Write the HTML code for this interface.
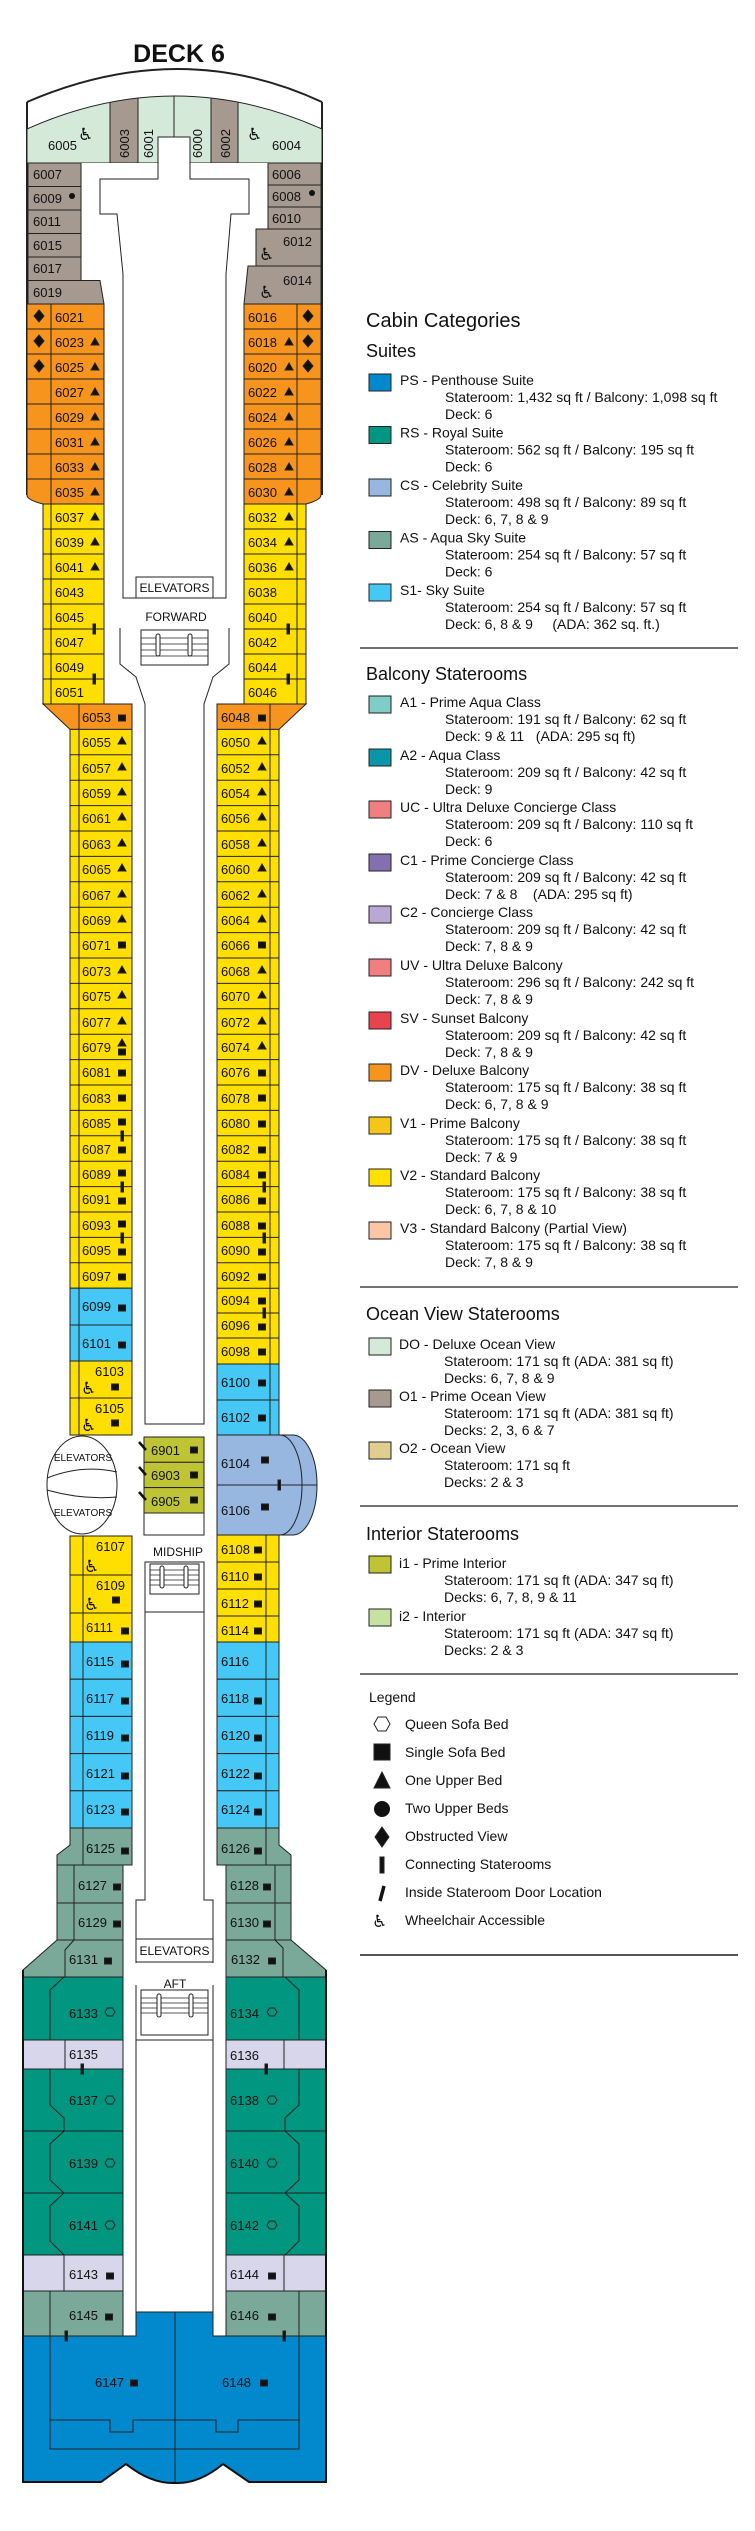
<!DOCTYPE html>
<html><head><meta charset="utf-8"><style>
html,body{margin:0;padding:0;background:#fff}
svg{display:block}
.n{font-family:"Liberation Sans",sans-serif;font-size:13px;fill:#111}
.s{font-family:"Liberation Sans",sans-serif;font-size:10px;fill:#111}
.lg{font-family:"Liberation Sans",sans-serif;font-size:14px;fill:#111}
.h{font-family:"Liberation Sans",sans-serif;font-size:18px;fill:#111}
.wc{font-family:"DejaVu Sans",sans-serif;font-size:17px;fill:#111}
rect,polygon,path.c{stroke:#222;stroke-width:1}
</style></head><body>
<svg width="755" height="2531" viewBox="0 0 755 2531" xmlns="http://www.w3.org/2000/svg">
<defs>
<clipPath id="bow"><path d="M27,129 Q174.5,63 322,129 V163 H27 Z"/></clipPath>
<g id="sq"><rect x="-3.5" y="-3" width="7" height="6" fill="#111" stroke="none"/></g>
<g id="tr"><polygon points="-4,3 4,3 0,-4" fill="#111" stroke="none"/></g>
<g id="dm"><polygon points="0,-6 5,0 0,6 -5,0" fill="#111" stroke="none"/></g>
<g id="cb"><rect x="-1" y="-5" width="2.5" height="10" fill="#111" stroke="none"/></g>
<g id="hx"><polygon points="-5,0 -2.5,-4 2.5,-4 5,0 2.5,4 -2.5,4" fill="none" stroke="#111" stroke-width="2"/></g>
</defs>

<text x="179" y="62" text-anchor="middle" style="font-family:'Liberation Sans',sans-serif;font-weight:bold;font-size:25px;fill:#111">DECK 6</text>

<!-- bow -->
<path d="M27,102 Q180,36 322,102" fill="none" stroke="#222" stroke-width="2"/>
<line x1="27" y1="102" x2="27" y2="495" stroke="#222" stroke-width="2"/>
<line x1="322" y1="102" x2="322" y2="495" stroke="#222" stroke-width="2"/>
<g clip-path="url(#bow)">
<rect x="27" y="60" width="295" height="103" fill="#d4e9d8"/>
<rect x="110" y="60" width="28" height="103" fill="#a59990"/>
<rect x="211" y="60" width="27" height="103" fill="#a59990"/>
<line x1="174" y1="60" x2="174" y2="163" stroke="#222"/>
</g>
<path d="M27,129 Q174.5,63 322,129" fill="none" stroke="#222"/>
<text class="n" x="48" y="150">6005</text><text class="wc" x="78" y="140">♿</text>
<text class="n" x="272" y="150">6004</text><text class="wc" x="247" y="140">♿</text>
<text class="n" transform="translate(129,158) rotate(-90)">6003</text>
<text class="n" transform="translate(153,158) rotate(-90)">6001</text>
<text class="n" transform="translate(202,158) rotate(-90)">6000</text>
<text class="n" transform="translate(230,158) rotate(-90)">6002</text>

<!-- central forward outline -->
<polygon points="158,137 190,137 190,179 249,179 249,214 231,214 226,274 226,598 123,598 123,274 117,214 100,214 100,179 158,179" fill="#fff" stroke="#222"/>
<rect x="136" y="577" width="77" height="21" fill="#fff"/>
<text class="n" x="174.5" y="592" text-anchor="middle" style="font-size:12px">ELEVATORS</text>
<text class="n" x="176" y="621" text-anchor="middle" style="font-size:12px">FORWARD</text>
<path d="M120,628 V664 L136,677 L145,704 V1424 H204 V704 L213,677 L229,664 V628" fill="none" stroke="#222"/>
<rect x="141" y="630" width="67" height="35" fill="#fff"/>
<g stroke="#222" stroke-width="0.8"><line x1="141" y1="638" x2="208" y2="638"/><line x1="141" y1="644" x2="208" y2="644"/><line x1="141" y1="650" x2="208" y2="650"/><line x1="141" y1="656" x2="208" y2="656"/></g>
<rect x="156" y="634" width="4" height="22" rx="2" fill="#fff"/><rect x="188" y="634" width="4" height="22" rx="2" fill="#fff"/>

<!-- left grey -->
<g fill="#a59990">
<rect x="28" y="163" width="53" height="23.5"/><rect x="28" y="186.5" width="53" height="23.5"/><rect x="28" y="210" width="53" height="23.5"/>
<rect x="28" y="233.5" width="53" height="23.5"/><rect x="28" y="257" width="53" height="23.5"/>
<polygon points="28,280.5 100,280.5 104,304 28,304"/>
</g>
<text class="n" x="33" y="179">6007</text><text class="n" x="33" y="203">6009</text><text class="n" x="33" y="226">6011</text>
<text class="n" x="33" y="250">6015</text><text class="n" x="33" y="273">6017</text><text class="n" x="33" y="297">6019</text>
<circle cx="72" cy="196" r="3" fill="#111"/>
<!-- right grey -->
<g fill="#a59990">
<rect x="268" y="163" width="53" height="22"/><rect x="268" y="185" width="53" height="22"/><rect x="268" y="207" width="53" height="22"/>
<rect x="256" y="229" width="65" height="37"/>
<polygon points="248,266 321,266 321,304 244,304"/>
</g>
<text class="n" x="272" y="179">6006</text><text class="n" x="272" y="201">6008</text><text class="n" x="272" y="223">6010</text>
<circle cx="312" cy="193" r="3" fill="#111"/>
<text class="wc" x="259" y="260">♿</text><text class="n" x="283" y="246">6012</text>
<text class="wc" x="259" y="298">♿</text><text class="n" x="283" y="285">6014</text>

<!-- orange upper -->
<g fill="#f7941e">
<rect x="27" y="304" width="77" height="25"/><rect x="27" y="329" width="77" height="25"/><rect x="27" y="354" width="77" height="25"/><rect x="27" y="379" width="77" height="25"/>
<rect x="27" y="404" width="77" height="25"/><rect x="27" y="429" width="77" height="25"/><rect x="27" y="454" width="77" height="25"/><path class="c" d="M27,479 H104 V504 H43 Q27,500 27,495 Z"/>
<rect x="244" y="304" width="77" height="25"/><rect x="244" y="329" width="77" height="25"/><rect x="244" y="354" width="77" height="25"/><rect x="244" y="379" width="77" height="25"/>
<rect x="244" y="404" width="77" height="25"/><rect x="244" y="429" width="77" height="25"/><rect x="244" y="454" width="77" height="25"/><path class="c" d="M244,479 H321 V495 Q321,500 306,504 H244 Z"/>
</g>
<line x1="51" y1="304" x2="51" y2="704" stroke="#222"/><line x1="297" y1="304" x2="297" y2="704" stroke="#222"/>
<!-- yellow upper -->
<g fill="#ffdf00">
<rect x="43" y="504" width="61" height="25"/><rect x="43" y="529" width="61" height="25"/><rect x="43" y="554" width="61" height="25"/><rect x="43" y="579" width="61" height="25"/>
<rect x="43" y="604" width="61" height="25"/><rect x="43" y="629" width="61" height="25"/><rect x="43" y="654" width="61" height="25"/><rect x="43" y="679" width="61" height="25"/>
<rect x="244" y="504" width="62" height="25"/><rect x="244" y="529" width="62" height="25"/><rect x="244" y="554" width="62" height="25"/><rect x="244" y="579" width="62" height="25"/>
<rect x="244" y="604" width="62" height="25"/><rect x="244" y="629" width="62" height="25"/><rect x="244" y="654" width="62" height="25"/><rect x="244" y="679" width="62" height="25"/>
</g>
<line x1="51" y1="504" x2="51" y2="704" stroke="#222"/><line x1="297" y1="504" x2="297" y2="704" stroke="#222"/>
<g class="n">
<text class="n" x="55" y="322">6021</text><text class="n" x="55" y="347">6023</text><text class="n" x="55" y="372">6025</text><text class="n" x="55" y="397">6027</text>
<text class="n" x="55" y="422">6029</text><text class="n" x="55" y="447">6031</text><text class="n" x="55" y="472">6033</text><text class="n" x="55" y="497">6035</text>
<text class="n" x="55" y="522">6037</text><text class="n" x="55" y="547">6039</text><text class="n" x="55" y="572">6041</text><text class="n" x="55" y="597">6043</text>
<text class="n" x="55" y="622">6045</text><text class="n" x="55" y="647">6047</text><text class="n" x="55" y="672">6049</text><text class="n" x="55" y="697">6051</text>
<text class="n" x="248" y="322">6016</text><text class="n" x="248" y="347">6018</text><text class="n" x="248" y="372">6020</text><text class="n" x="248" y="397">6022</text>
<text class="n" x="248" y="422">6024</text><text class="n" x="248" y="447">6026</text><text class="n" x="248" y="472">6028</text><text class="n" x="248" y="497">6030</text>
<text class="n" x="248" y="522">6032</text><text class="n" x="248" y="547">6034</text><text class="n" x="248" y="572">6036</text><text class="n" x="248" y="597">6038</text>
<text class="n" x="248" y="622">6040</text><text class="n" x="248" y="647">6042</text><text class="n" x="248" y="672">6044</text><text class="n" x="248" y="697">6046</text>
</g>
<use href="#dm" x="39" y="316"/><use href="#dm" x="39" y="341"/><use href="#dm" x="39" y="366"/>
<use href="#dm" x="308" y="316"/><use href="#dm" x="308" y="341"/><use href="#dm" x="308" y="366"/>
<use href="#tr" x="95" y="342"/><use href="#tr" x="95" y="367"/><use href="#tr" x="95" y="392"/><use href="#tr" x="95" y="417"/><use href="#tr" x="95" y="442"/><use href="#tr" x="95" y="467"/><use href="#tr" x="95" y="492"/>
<use href="#tr" x="95" y="517"/><use href="#tr" x="95" y="542"/><use href="#tr" x="95" y="567"/>
<use href="#tr" x="289" y="342"/><use href="#tr" x="289" y="367"/><use href="#tr" x="289" y="392"/><use href="#tr" x="289" y="417"/><use href="#tr" x="289" y="442"/><use href="#tr" x="289" y="467"/><use href="#tr" x="289" y="492"/>
<use href="#tr" x="289" y="517"/><use href="#tr" x="289" y="542"/><use href="#tr" x="289" y="567"/>
<use href="#cb" x="94" y="629"/><use href="#cb" x="94" y="679"/><use href="#cb" x="288" y="629"/><use href="#cb" x="288" y="679"/>

<!-- mid section rows -->
<polygon points="43,704 79,704 79,729.4 70,729.4" fill="#f7941e"/>
<polygon points="270,704 306,704 279,729.4 270,729.4" fill="#f7941e"/>
<rect x="79" y="704" width="53" height="25.4" fill="#f7941e"/>
<rect x="217" y="704" width="53" height="25.4" fill="#f7941e"/>
<rect x="70" y="729.4" width="62" height="558.8" fill="#ffdf00"/>
<rect x="217" y="729.4" width="62" height="634.6" fill="#ffdf00"/>
<g stroke="#222">
<line x1="79" y1="704" x2="79" y2="1435"/><line x1="270" y1="704" x2="270" y2="1435"/>
<line x1="70" y1="754.8" x2="132" y2="754.8"/><line x1="70" y1="780.2" x2="132" y2="780.2"/><line x1="70" y1="805.6" x2="132" y2="805.6"/><line x1="70" y1="831" x2="132" y2="831"/>
<line x1="70" y1="856.4" x2="132" y2="856.4"/><line x1="70" y1="881.8" x2="132" y2="881.8"/><line x1="70" y1="907.2" x2="132" y2="907.2"/><line x1="70" y1="932.6" x2="132" y2="932.6"/>
<line x1="70" y1="958" x2="132" y2="958"/><line x1="70" y1="983.4" x2="132" y2="983.4"/><line x1="70" y1="1008.8" x2="132" y2="1008.8"/><line x1="70" y1="1034.2" x2="132" y2="1034.2"/>
<line x1="70" y1="1059.6" x2="132" y2="1059.6"/><line x1="70" y1="1085" x2="132" y2="1085"/><line x1="70" y1="1110.4" x2="132" y2="1110.4"/><line x1="70" y1="1135.8" x2="132" y2="1135.8"/>
<line x1="70" y1="1161.2" x2="132" y2="1161.2"/><line x1="70" y1="1186.6" x2="132" y2="1186.6"/><line x1="70" y1="1212" x2="132" y2="1212"/><line x1="70" y1="1237.4" x2="132" y2="1237.4"/><line x1="70" y1="1262.8" x2="132" y2="1262.8"/>
<line x1="217" y1="754.8" x2="279" y2="754.8"/><line x1="217" y1="780.2" x2="279" y2="780.2"/><line x1="217" y1="805.6" x2="279" y2="805.6"/><line x1="217" y1="831" x2="279" y2="831"/>
<line x1="217" y1="856.4" x2="279" y2="856.4"/><line x1="217" y1="881.8" x2="279" y2="881.8"/><line x1="217" y1="907.2" x2="279" y2="907.2"/><line x1="217" y1="932.6" x2="279" y2="932.6"/>
<line x1="217" y1="958" x2="279" y2="958"/><line x1="217" y1="983.4" x2="279" y2="983.4"/><line x1="217" y1="1008.8" x2="279" y2="1008.8"/><line x1="217" y1="1034.2" x2="279" y2="1034.2"/>
<line x1="217" y1="1059.6" x2="279" y2="1059.6"/><line x1="217" y1="1085" x2="279" y2="1085"/><line x1="217" y1="1110.4" x2="279" y2="1110.4"/><line x1="217" y1="1135.8" x2="279" y2="1135.8"/>
<line x1="217" y1="1161.2" x2="279" y2="1161.2"/><line x1="217" y1="1186.6" x2="279" y2="1186.6"/><line x1="217" y1="1212" x2="279" y2="1212"/><line x1="217" y1="1237.4" x2="279" y2="1237.4"/><line x1="217" y1="1262.8" x2="279" y2="1262.8"/>
<line x1="217" y1="1288.2" x2="279" y2="1288.2"/><line x1="217" y1="1313" x2="279" y2="1313"/><line x1="217" y1="1338" x2="279" y2="1338"/>
</g>
<!-- blue/yellow near midship -->
<rect x="70" y="1288.2" width="62" height="36.8" fill="#45c8f5"/><rect x="70" y="1325" width="62" height="36" fill="#45c8f5"/>
<rect x="70" y="1361" width="62" height="37" fill="#ffdf00"/><rect x="70" y="1398" width="62" height="37" fill="#ffdf00"/>
<rect x="217" y="1364" width="62" height="36" fill="#45c8f5"/><rect x="217" y="1400" width="62" height="35" fill="#45c8f5"/>
<g stroke="#222"><line x1="79" y1="1288" x2="79" y2="1435"/><line x1="270" y1="1364" x2="270" y2="1435"/></g>

<g>
<text class="n" x="82" y="722">6053</text><text class="n" x="82" y="747">6055</text><text class="n" x="82" y="773">6057</text><text class="n" x="82" y="798">6059</text>
<text class="n" x="82" y="823">6061</text><text class="n" x="82" y="849">6063</text><text class="n" x="82" y="874">6065</text><text class="n" x="82" y="900">6067</text>
<text class="n" x="82" y="925">6069</text><text class="n" x="82" y="950">6071</text><text class="n" x="82" y="976">6073</text><text class="n" x="82" y="1001">6075</text>
<text class="n" x="82" y="1027">6077</text><text class="n" x="82" y="1052">6079</text><text class="n" x="82" y="1077">6081</text><text class="n" x="82" y="1103">6083</text>
<text class="n" x="82" y="1128">6085</text><text class="n" x="82" y="1154">6087</text><text class="n" x="82" y="1179">6089</text><text class="n" x="82" y="1204">6091</text>
<text class="n" x="82" y="1230">6093</text><text class="n" x="82" y="1255">6095</text><text class="n" x="82" y="1281">6097</text>
<text class="n" x="82" y="1311">6099</text><text class="n" x="82" y="1348">6101</text>
<text class="n" x="95" y="1376">6103</text><text class="wc" x="81" y="1394">♿</text>
<text class="n" x="95" y="1413">6105</text><text class="wc" x="81" y="1431">♿</text>
<text class="n" x="221" y="722">6048</text><text class="n" x="221" y="747">6050</text><text class="n" x="221" y="773">6052</text><text class="n" x="221" y="798">6054</text>
<text class="n" x="221" y="823">6056</text><text class="n" x="221" y="849">6058</text><text class="n" x="221" y="874">6060</text><text class="n" x="221" y="900">6062</text>
<text class="n" x="221" y="925">6064</text><text class="n" x="221" y="950">6066</text><text class="n" x="221" y="976">6068</text><text class="n" x="221" y="1001">6070</text>
<text class="n" x="221" y="1027">6072</text><text class="n" x="221" y="1052">6074</text><text class="n" x="221" y="1077">6076</text><text class="n" x="221" y="1103">6078</text>
<text class="n" x="221" y="1128">6080</text><text class="n" x="221" y="1154">6082</text><text class="n" x="221" y="1179">6084</text><text class="n" x="221" y="1204">6086</text>
<text class="n" x="221" y="1230">6088</text><text class="n" x="221" y="1255">6090</text><text class="n" x="221" y="1281">6092</text>
<text class="n" x="221" y="1305">6094</text><text class="n" x="221" y="1330">6096</text><text class="n" x="221" y="1356">6098</text>
<text class="n" x="221" y="1387">6100</text><text class="n" x="221" y="1422">6102</text>
</g>
<use href="#sq" x="122" y="718"/>
<use href="#tr" x="122" y="741"/><use href="#tr" x="122" y="767"/><use href="#tr" x="122" y="792"/><use href="#tr" x="122" y="817"/><use href="#tr" x="122" y="843"/><use href="#tr" x="122" y="868"/><use href="#tr" x="122" y="894"/><use href="#tr" x="122" y="919"/>
<use href="#sq" x="122" y="945"/><use href="#tr" x="122" y="970"/><use href="#tr" x="122" y="995"/><use href="#tr" x="122" y="1021"/>
<use href="#tr" x="122" y="1043"/><use href="#sq" x="122" y="1052"/>
<use href="#sq" x="122" y="1073"/><use href="#sq" x="122" y="1098"/><use href="#sq" x="122" y="1122"/><use href="#sq" x="122" y="1150"/><use href="#sq" x="122" y="1173"/><use href="#sq" x="122" y="1201"/>
<use href="#sq" x="122" y="1224"/><use href="#sq" x="122" y="1252"/><use href="#sq" x="122" y="1277"/><use href="#sq" x="122" y="1308"/><use href="#sq" x="122" y="1345"/>
<use href="#sq" x="115" y="1387"/><use href="#sq" x="115" y="1423"/>
<use href="#cb" x="122" y="1136"/><use href="#cb" x="122" y="1187"/><use href="#cb" x="122" y="1238"/>
<use href="#sq" x="262" y="718"/>
<use href="#tr" x="262" y="741"/><use href="#tr" x="262" y="767"/><use href="#tr" x="262" y="792"/><use href="#tr" x="262" y="817"/><use href="#tr" x="262" y="843"/><use href="#tr" x="262" y="868"/><use href="#tr" x="262" y="894"/><use href="#tr" x="262" y="919"/>
<use href="#sq" x="262" y="945"/><use href="#tr" x="262" y="970"/><use href="#tr" x="262" y="995"/><use href="#tr" x="262" y="1021"/><use href="#tr" x="262" y="1046"/>
<use href="#sq" x="262" y="1073"/><use href="#sq" x="262" y="1098"/><use href="#sq" x="262" y="1124"/><use href="#sq" x="262" y="1150"/><use href="#sq" x="262" y="1175"/><use href="#sq" x="262" y="1201"/>
<use href="#sq" x="262" y="1226"/><use href="#sq" x="262" y="1252"/><use href="#sq" x="262" y="1277"/><use href="#sq" x="262" y="1301"/><use href="#sq" x="262" y="1327"/><use href="#sq" x="262" y="1352"/>
<use href="#sq" x="262" y="1383"/><use href="#sq" x="262" y="1418"/>
<use href="#cb" x="264" y="1187"/><use href="#cb" x="264" y="1238"/><use href="#cb" x="264" y="1313"/>

<!-- midship -->
<ellipse cx="82" cy="1485" rx="35" ry="49" fill="#fff" stroke="#222"/>
<path d="M47,1478 Q82,1464 117,1472" fill="none" stroke="#222"/>
<path d="M47,1490 Q82,1500 117,1497" fill="none" stroke="#222"/>
<text class="s" x="83" y="1461" text-anchor="middle">ELEVATORS</text>
<text class="s" x="83" y="1516" text-anchor="middle">ELEVATORS</text>
<g fill="#bfc435"><rect x="144" y="1437" width="60" height="25.3"/><rect x="144" y="1462.3" width="60" height="25.3"/><rect x="144" y="1487.6" width="60" height="25.4"/></g>
<rect x="144" y="1513" width="60" height="22" fill="#fff"/>
<g stroke="#111" stroke-width="2.5"><line x1="139" y1="1442" x2="146" y2="1450"/><line x1="139" y1="1467" x2="146" y2="1475"/><line x1="139" y1="1492" x2="146" y2="1500"/></g>
<text class="n" x="151" y="1455">6901</text><text class="n" x="151" y="1480">6903</text><text class="n" x="151" y="1506">6905</text>
<use href="#sq" x="194" y="1450"/><use href="#sq" x="194" y="1475"/><use href="#sq" x="194" y="1500"/>
<path class="c" d="M217,1435 H293 A24,50 0 0 1 293,1535 H217 Z" fill="#97b6e0"/>
<path d="M280,1435 A22,50 0 0 1 280,1535" fill="none" stroke="#222"/>
<line x1="217" y1="1485" x2="317" y2="1485" stroke="#222"/>
<use href="#cb" x="279" y="1485"/>
<text class="n" x="221" y="1468">6104</text><text class="n" x="221" y="1515">6106</text>
<use href="#sq" x="265" y="1460"/><use href="#sq" x="265" y="1507"/>
<text class="n" x="178" y="1556" text-anchor="middle" style="font-size:12px">MIDSHIP</text>
<rect x="145" y="1562" width="59" height="50" fill="#fff"/>
<rect x="150" y="1564" width="49" height="30" fill="#fff"/>
<g stroke="#222" stroke-width="0.8"><line x1="150" y1="1570" x2="199" y2="1570"/><line x1="150" y1="1575" x2="199" y2="1575"/><line x1="150" y1="1580" x2="199" y2="1580"/><line x1="150" y1="1585" x2="199" y2="1585"/></g>
<rect x="160" y="1566" width="4" height="22" rx="2" fill="#fff"/><rect x="184" y="1566" width="4" height="22" rx="2" fill="#fff"/>
<path d="M145,1612 V1900 H136 V1963 M204,1612 V1900 H213 V1963" fill="none" stroke="#222"/>
<rect x="136" y="1939" width="77" height="23" fill="#fff"/>
<text class="n" x="174.5" y="1955" text-anchor="middle" style="font-size:12px">ELEVATORS</text>
<text class="n" x="175" y="1988" text-anchor="middle" style="font-size:12px">AFT</text>
<path d="M136,1985 V2312 M213,1985 V2312 M136,2040 H213" fill="none" stroke="#222"/>
<rect x="141" y="1990" width="67" height="45" fill="#fff"/>
<g stroke="#222" stroke-width="0.8"><line x1="141" y1="1998" x2="208" y2="1998"/><line x1="141" y1="2003" x2="208" y2="2003"/><line x1="141" y1="2008" x2="208" y2="2008"/><line x1="141" y1="2013" x2="208" y2="2013"/></g>
<rect x="157" y="1994" width="4" height="23" rx="2" fill="#fff"/><rect x="189" y="1994" width="4" height="23" rx="2" fill="#fff"/>

<!-- lower left -->
<g fill="#ffdf00"><rect x="70" y="1536" width="62" height="39"/><rect x="70" y="1575" width="62" height="38"/><rect x="70" y="1613" width="62" height="29"/></g>
<g fill="#ffdf00"><rect x="217" y="1535" width="62" height="27"/><rect x="217" y="1562" width="62" height="27"/><rect x="217" y="1589" width="62" height="27"/><rect x="217" y="1616" width="62" height="26"/></g>
<g fill="#45c8f5">
<rect x="70" y="1642" width="62" height="37.2"/><rect x="70" y="1679.2" width="62" height="37.2"/><rect x="70" y="1716.4" width="62" height="37.2"/><rect x="70" y="1753.6" width="62" height="37.2"/><rect x="70" y="1790.8" width="62" height="37.2"/>
<rect x="217" y="1642" width="62" height="37.2"/><rect x="217" y="1679.2" width="62" height="37.2"/><rect x="217" y="1716.4" width="62" height="37.2"/><rect x="217" y="1753.6" width="62" height="37.2"/><rect x="217" y="1790.8" width="62" height="37.2"/>
</g>
<polygon points="70,1828 132,1828 132,1865 57,1865 57,1855 70,1845" fill="#7aa899"/>
<polygon points="217,1828 279,1828 279,1845 291,1855 291,1865 217,1865" fill="#7aa899"/>
<g stroke="#222"><line x1="83" y1="1536" x2="83" y2="1865"/><line x1="266" y1="1535" x2="266" y2="1865"/></g>
<g fill="#7aa899">
<rect x="57" y="1865" width="66" height="38"/><rect x="57" y="1903" width="66" height="37"/>
<rect x="226" y="1865" width="65" height="38"/><rect x="226" y="1903" width="65" height="37"/>
<polygon points="57,1940 123,1940 123,1977 23,1977 23,1970"/>
<polygon points="226,1940 291,1940 326,1970 326,1977 226,1977"/>
</g>
<g stroke="#222" fill="none"><path d="M74,1865 V1940 L65,1950 V1977"/><path d="M275,1865 V1940 L283,1948 V1977"/></g>
<text class="n" x="96" y="1551">6107</text><text class="wc" x="84" y="1572">♿</text>
<text class="n" x="96" y="1590">6109</text><text class="wc" x="84" y="1610">♿</text>
<text class="n" x="86" y="1632">6111</text>
<use href="#sq" x="116" y="1600"/><use href="#sq" x="125" y="1631"/>
<text class="n" x="86" y="1666">6115</text><text class="n" x="86" y="1703">6117</text><text class="n" x="86" y="1740">6119</text><text class="n" x="86" y="1778">6121</text><text class="n" x="86" y="1814">6123</text><text class="n" x="86" y="1853">6125</text>
<use href="#sq" x="125" y="1664"/><use href="#sq" x="125" y="1701"/><use href="#sq" x="125" y="1738"/><use href="#sq" x="125" y="1776"/><use href="#sq" x="125" y="1812"/><use href="#sq" x="125" y="1851"/>
<text class="n" x="221" y="1554">6108</text><text class="n" x="221" y="1581">6110</text><text class="n" x="221" y="1608">6112</text><text class="n" x="221" y="1635">6114</text>
<use href="#sq" x="258" y="1550"/><use href="#sq" x="258" y="1577"/><use href="#sq" x="258" y="1604"/><use href="#sq" x="258" y="1631"/>
<text class="n" x="221" y="1666">6116</text><text class="n" x="221" y="1703">6118</text><text class="n" x="221" y="1740">6120</text><text class="n" x="221" y="1778">6122</text><text class="n" x="221" y="1814">6124</text><text class="n" x="221" y="1853">6126</text>
<use href="#sq" x="258" y="1701"/><use href="#sq" x="258" y="1738"/><use href="#sq" x="258" y="1776"/><use href="#sq" x="258" y="1812"/><use href="#sq" x="258" y="1851"/>
<text class="n" x="78" y="1890">6127</text><text class="n" x="78" y="1927">6129</text><text class="n" x="69" y="1964">6131</text>
<use href="#sq" x="117" y="1887"/><use href="#sq" x="117" y="1924"/><use href="#sq" x="108" y="1961"/>
<text class="n" x="230" y="1890">6128</text><text class="n" x="230" y="1927">6130</text><text class="n" x="231" y="1964">6132</text>
<use href="#sq" x="267" y="1887"/><use href="#sq" x="267" y="1924"/><use href="#sq" x="272" y="1961"/>

<!-- aft suites -->
<g fill="#009680">
<rect x="23" y="1977" width="100" height="63"/><rect x="23" y="2069" width="100" height="62"/><rect x="23" y="2131" width="100" height="62"/><rect x="23" y="2193" width="100" height="62"/>
<rect x="226" y="1977" width="100" height="63"/><rect x="226" y="2069" width="100" height="62"/><rect x="226" y="2131" width="100" height="62"/><rect x="226" y="2193" width="100" height="62"/>
</g>
<g fill="#d8d6ea"><rect x="23" y="2040" width="100" height="29"/><rect x="23" y="2255" width="100" height="36"/><rect x="226" y="2040" width="100" height="29"/><rect x="226" y="2255" width="100" height="36"/></g>
<g fill="#7aa899"><rect x="23" y="2291" width="100" height="45"/><rect x="226" y="2291" width="100" height="45"/></g>
<g stroke="#222" fill="none">
<path d="M64,1977 L50,1990 V2040 M65,2040 V2069 M50,2069 V2105 L64,2118 V2131 M64,2131 L50,2144 V2180 L64,2193 M64,2193 L50,2206 V2241 L64,2255 M64,2255 V2291 M50,2291 V2336"/>
<path d="M285,1977 L299,1990 V2040 M284,2040 V2069 M299,2069 V2105 L285,2118 V2131 M285,2131 L299,2144 V2180 L285,2193 M285,2193 L299,2206 V2241 L285,2255 M284,2255 V2291 M299,2291 V2336"/>
</g>
<path class="c" d="M136,2312 H213 V2336 H326 V2482 H249 L223,2464 Q199,2484 175,2483 Q151,2484 126,2464 L101,2482 H23 V2336 H136 Z" fill="#0288cc"/>
<g stroke="#222" fill="none">
<line x1="175" y1="2312" x2="175" y2="2483"/>
<path d="M50,2336 V2449 H299 V2336"/>
<path d="M50,2420 H110 V2432 H133 V2420 H216 V2432 H238 V2420 H299"/>
</g>
<path d="M23,1970 V2482 H101 L126,2464 Q151,2484 175,2483 Q199,2484 223,2464 L249,2482 H326 V1970" fill="none" stroke="#111" stroke-width="2"/>
<text class="n" x="69" y="2018">6133</text><text class="n" x="69" y="2059">6135</text><text class="n" x="69" y="2105">6137</text><text class="n" x="69" y="2168">6139</text><text class="n" x="69" y="2230">6141</text><text class="n" x="69" y="2279">6143</text><text class="n" x="69" y="2320">6145</text>
<use href="#hx" x="110" y="2012"/><use href="#hx" x="110" y="2100"/><use href="#hx" x="110" y="2163"/><use href="#hx" x="110" y="2225"/>
<use href="#sq" x="110" y="2276"/><use href="#sq" x="109" y="2317"/>
<use href="#cb" x="82" y="2069"/><use href="#cb" x="66" y="2336"/>
<text class="n" x="230" y="2060">6136</text><text class="n" x="230" y="2018">6134</text><text class="n" x="230" y="2105">6138</text><text class="n" x="230" y="2168">6140</text><text class="n" x="230" y="2230">6142</text><text class="n" x="230" y="2279">6144</text><text class="n" x="230" y="2320">6146</text>
<use href="#hx" x="272" y="2012"/><use href="#hx" x="272" y="2100"/><use href="#hx" x="272" y="2163"/><use href="#hx" x="272" y="2225"/>
<use href="#sq" x="272" y="2276"/><use href="#sq" x="272" y="2317"/>
<use href="#cb" x="266" y="2069"/><use href="#cb" x="284" y="2336"/>
<text class="n" x="95" y="2387">6147</text><use href="#sq" x="134" y="2383"/>
<text class="n" x="222" y="2387">6148</text><use href="#sq" x="264" y="2383"/>

<!-- LEGEND -->
<g style="font-family:'Liberation Sans',sans-serif;fill:#111">
<text x="366" y="327" style="font-size:20px">Cabin Categories</text>
<text x="366" y="357" class="h">Suites</text>
</g>
<g class="lg">
<rect x="369" y="374" width="22" height="17" fill="#0288cc" stroke="#888"/><text class="lg" x="400" y="385">PS - Penthouse Suite</text><text class="lg" x="445" y="402">Stateroom: 1,432 sq ft / Balcony: 1,098 sq ft</text><text class="lg" x="445" y="419">Deck: 6</text>
<rect x="369" y="426.5" width="22" height="17" fill="#009680" stroke="#888"/><text class="lg" x="400" y="437.5">RS - Royal Suite</text><text class="lg" x="445" y="454.5">Stateroom: 562 sq ft / Balcony: 195 sq ft</text><text class="lg" x="445" y="471.5">Deck: 6</text>
<rect x="369" y="479" width="22" height="17" fill="#97b6e0" stroke="#888"/><text class="lg" x="400" y="490">CS - Celebrity Suite</text><text class="lg" x="445" y="507">Stateroom: 498 sq ft / Balcony: 89 sq ft</text><text class="lg" x="445" y="524">Deck: 6, 7, 8 &amp; 9</text>
<rect x="369" y="531.5" width="22" height="17" fill="#7aa899" stroke="#888"/><text class="lg" x="400" y="542.5">AS - Aqua Sky Suite</text><text class="lg" x="445" y="559.5">Stateroom: 254 sq ft / Balcony: 57 sq ft</text><text class="lg" x="445" y="576.5">Deck: 6</text>
<rect x="369" y="584" width="22" height="17" fill="#45c8f5" stroke="#888"/><text class="lg" x="400" y="595">S1- Sky Suite</text><text class="lg" x="445" y="612">Stateroom: 254 sq ft / Balcony: 57 sq ft</text><text class="lg" x="445" y="629">Deck: 6, 8 &amp; 9 &#160;&#160;&#160;&#160;(ADA: 362 sq. ft.)</text>
</g>
<line x1="360" y1="648" x2="738" y2="648" stroke="#444" stroke-width="1.5"/>
<text x="366" y="680" class="h">Balcony Staterooms</text>
<g>
<rect x="369" y="696" width="22" height="17" fill="#80ccc6" stroke="#888"/><text class="lg" x="400" y="707">A1 - Prime Aqua Class</text><text class="lg" x="445" y="724">Stateroom: 191 sq ft / Balcony: 62 sq ft</text><text class="lg" x="445" y="741">Deck: 9 &amp; 11 &#160;&#160;(ADA: 295 sq ft)</text>
<rect x="369" y="749" width="22" height="17" fill="#0a96a8" stroke="#888"/><text class="lg" x="400" y="760">A2 - Aqua Class</text><text class="lg" x="445" y="777">Stateroom: 209 sq ft / Balcony: 42 sq ft</text><text class="lg" x="445" y="794">Deck: 9</text>
<rect x="369" y="801" width="22" height="17" fill="#f08080" stroke="#888"/><text class="lg" x="400" y="812">UC - Ultra Deluxe Concierge Class</text><text class="lg" x="445" y="829">Stateroom: 209 sq ft / Balcony: 110 sq ft</text><text class="lg" x="445" y="846">Deck: 6</text>
<rect x="369" y="854" width="22" height="17" fill="#8470b0" stroke="#888"/><text class="lg" x="400" y="865">C1 - Prime Concierge Class</text><text class="lg" x="445" y="882">Stateroom: 209 sq ft / Balcony: 42 sq ft</text><text class="lg" x="445" y="899">Deck: 7 &amp; 8 &#160;&#160;&#160;(ADA: 295 sq ft)</text>
<rect x="369" y="906" width="22" height="17" fill="#b9a8d3" stroke="#888"/><text class="lg" x="400" y="917">C2 - Concierge Class</text><text class="lg" x="445" y="934">Stateroom: 209 sq ft / Balcony: 42 sq ft</text><text class="lg" x="445" y="951">Deck: 7, 8 &amp; 9</text>
<rect x="369" y="959" width="22" height="17" fill="#f08080" stroke="#888"/><text class="lg" x="400" y="970">UV - Ultra Deluxe Balcony</text><text class="lg" x="445" y="987">Stateroom: 296 sq ft / Balcony: 242 sq ft</text><text class="lg" x="445" y="1004">Deck: 7, 8 &amp; 9</text>
<rect x="369" y="1012" width="22" height="17" fill="#e8444e" stroke="#888"/><text class="lg" x="400" y="1023">SV - Sunset Balcony</text><text class="lg" x="445" y="1040">Stateroom: 209 sq ft / Balcony: 42 sq ft</text><text class="lg" x="445" y="1057">Deck: 7, 8 &amp; 9</text>
<rect x="369" y="1064" width="22" height="17" fill="#f7941e" stroke="#888"/><text class="lg" x="400" y="1075">DV - Deluxe Balcony</text><text class="lg" x="445" y="1092">Stateroom: 175 sq ft / Balcony: 38 sq ft</text><text class="lg" x="445" y="1109">Deck: 6, 7, 8 &amp; 9</text>
<rect x="369" y="1117" width="22" height="17" fill="#f5c518" stroke="#888"/><text class="lg" x="400" y="1128">V1 - Prime Balcony</text><text class="lg" x="445" y="1145">Stateroom: 175 sq ft / Balcony: 38 sq ft</text><text class="lg" x="445" y="1162">Deck: 7 &amp; 9</text>
<rect x="369" y="1169" width="22" height="17" fill="#ffe000" stroke="#888"/><text class="lg" x="400" y="1180">V2 - Standard Balcony</text><text class="lg" x="445" y="1197">Stateroom: 175 sq ft / Balcony: 38 sq ft</text><text class="lg" x="445" y="1214">Deck: 6, 7, 8 &amp; 10</text>
<rect x="369" y="1222" width="22" height="17" fill="#fcc5a5" stroke="#888"/><text class="lg" x="400" y="1233">V3 - Standard Balcony (Partial View)</text><text class="lg" x="445" y="1250">Stateroom: 175 sq ft / Balcony: 38 sq ft</text><text class="lg" x="445" y="1267">Deck: 7, 8 &amp; 9</text>
</g>
<line x1="360" y1="1287" x2="738" y2="1287" stroke="#444" stroke-width="1.5"/>
<text x="366" y="1320" class="h">Ocean View Staterooms</text>
<g>
<rect x="369" y="1338" width="22" height="17" fill="#d4e9d8" stroke="#888"/><text class="lg" x="399" y="1349">DO - Deluxe Ocean View</text><text class="lg" x="444" y="1366">Stateroom: 171 sq ft (ADA: 381 sq ft)</text><text class="lg" x="444" y="1383">Decks: 6, 7, 8 &amp; 9</text>
<rect x="369" y="1390" width="22" height="17" fill="#a59990" stroke="#888"/><text class="lg" x="399" y="1401">O1 - Prime Ocean View</text><text class="lg" x="444" y="1418">Stateroom: 171 sq ft (ADA: 381 sq ft)</text><text class="lg" x="444" y="1435">Decks: 2, 3, 6 &amp; 7</text>
<rect x="369" y="1442" width="22" height="17" fill="#dfce90" stroke="#888"/><text class="lg" x="399" y="1453">O2 - Ocean View</text><text class="lg" x="444" y="1470">Stateroom: 171 sq ft</text><text class="lg" x="444" y="1487">Decks: 2 &amp; 3</text>
</g>
<line x1="360" y1="1506" x2="738" y2="1506" stroke="#444" stroke-width="1.5"/>
<text x="366" y="1540" class="h">Interior Staterooms</text>
<g>
<rect x="369" y="1556" width="22" height="17" fill="#bfc435" stroke="#888"/><text class="lg" x="399" y="1568">i1 - Prime Interior</text><text class="lg" x="444" y="1585">Stateroom: 171 sq ft (ADA: 347 sq ft)</text><text class="lg" x="444" y="1602">Decks: 6, 7, 8, 9 &amp; 11</text>
<rect x="369" y="1609" width="22" height="17" fill="#c6e2a0" stroke="#888"/><text class="lg" x="399" y="1621">i2 - Interior</text><text class="lg" x="444" y="1638">Stateroom: 171 sq ft (ADA: 347 sq ft)</text><text class="lg" x="444" y="1655">Decks: 2 &amp; 3</text>
</g>
<line x1="360" y1="1674" x2="738" y2="1674" stroke="#444" stroke-width="1.5"/>
<text class="lg" x="369" y="1702">Legend</text>
<polygon points="374,1724 378,1717 386,1717 390,1724 386,1731 378,1731" fill="none" stroke="#111" stroke-width="2.5"/>
<rect x="374" y="1744" width="16" height="16" fill="#111"/>
<polygon points="382,1772 390,1788 374,1788" fill="#111"/>
<circle cx="382" cy="1809" r="8" fill="#111"/>
<polygon points="382,1827 389,1837 382,1847 375,1837" fill="#111"/>
<rect x="380" y="1857" width="4" height="16" fill="#111"/>
<line x1="384" y1="1886" x2="380" y2="1901" stroke="#111" stroke-width="3.5"/>
<text class="wc" x="372" y="1927">♿</text>
<text class="lg" x="405" y="1729">Queen Sofa Bed</text>
<text class="lg" x="405" y="1757">Single Sofa Bed</text>
<text class="lg" x="405" y="1785">One Upper Bed</text>
<text class="lg" x="405" y="1813">Two Upper Beds</text>
<text class="lg" x="405" y="1841">Obstructed View</text>
<text class="lg" x="405" y="1869">Connecting Staterooms</text>
<text class="lg" x="405" y="1897">Inside Stateroom Door Location</text>
<text class="lg" x="405" y="1925">Wheelchair Accessible</text>
<line x1="360" y1="1955" x2="738" y2="1955" stroke="#555" stroke-width="2"/>
</svg>
</body></html>
